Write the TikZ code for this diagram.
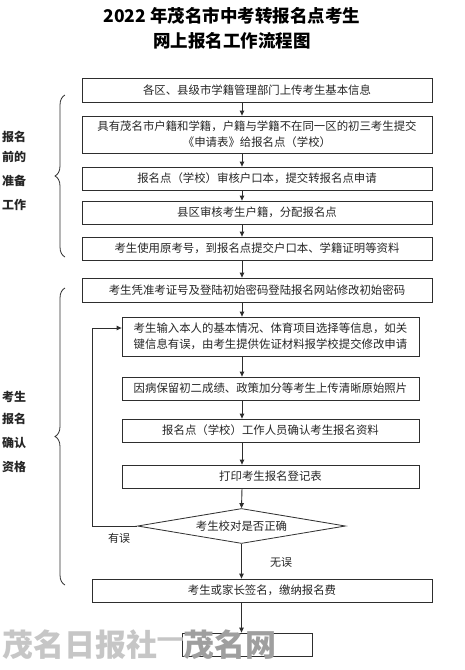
\documentclass[tikz,border=0pt]{standalone}
\usepackage{fontspec}
\newfontfamily\cjk{Noto Sans CJK SC}
\usetikzlibrary{arrows.meta,shapes.geometric,decorations.pathreplacing}
\definecolor{linec}{HTML}{2E2E2E}
\definecolor{txt}{HTML}{262626}
\begin{document}
\begin{tikzpicture}[x=1pt,y=-1pt,
  box/.style={draw=linec, line width=0.8pt, minimum height=23pt, inner sep=0pt,
    font=\cjk\fontsize{11.4}{16}\selectfont, text=txt, align=center},
  arr/.style={-{Triangle[length=5pt,width=4.5pt]}, draw=linec, line width=0.9pt},
  side/.style={font=\cjk\bfseries\fontsize{12}{14}\selectfont, text=txt},
  title/.style={font=\cjk\bfseries\fontsize{17.5}{20}\selectfont, text=black},
  lbl/.style={font=\cjk\fontsize{11}{13}\selectfont, text=txt},
  brc/.style={draw=linec, line width=0.8pt, decorate, decoration={brace, amplitude=10pt}},
  wm/.style={font=\cjk\bfseries\fontsize{31}{34}\selectfont}
]
\useasboundingbox[fill=white] (0,0) rectangle (465,670);

% title
\node[title] (t1) at (232,16) {2022 年茂名市中考转报名点考生};
\node[title] (t2) at (232,41) {网上报名工作流程图};

% column of arrows
\coordinate (ax) at (242,0);

% boxes
\node[box, minimum width=350pt, minimum height=24pt] (b1) at (257,90) {各区、县级市学籍管理部门上传考生基本信息};
\node[box, minimum width=350pt, minimum height=37pt] (b2) at (257,134.5) {具有茂名市户籍和学籍，户籍与学籍不在同一区的初三考生提交\\《申请表》给报名点（学校）};
\node[box, minimum width=350pt] (b3) at (257,178.5) {报名点（学校）审核户口本，提交转报名点申请};
\node[box, minimum width=350pt] (b4) at (257,212.5) {县区审核考生户籍，分配报名点};
\node[box, minimum width=350pt] (b5) at (257,248.5) {考生使用原考号，到报名点提交户口本、学籍证明等资料};
\node[box, minimum width=350pt, minimum height=24pt] (b6) at (257,290) {考生凭准考证号及登陆初始密码登陆报名网站修改初始密码};
\node[box, minimum width=297pt, minimum height=39pt] (b7) at (270.5,336.5) {考生输入本人的基本情况、体育项目选择等信息，如关\\键信息有误，由考生提供佐证材料报学校提交修改申请};
\node[box, minimum width=297pt] (b8) at (270.5,388.5) {因病保留初二成绩、政策加分等考生上传清晰原始照片};
\node[box, minimum width=297pt] (b9) at (270.5,430.5) {报名点（学校）工作人员确认考生报名资料};
\node[box, minimum width=297pt] (b10) at (270.5,476.5) {打印考生报名登记表};
\node[box, shape=diamond, aspect=6, minimum width=208pt, minimum height=35pt] (dia) at (241.5,526) {考生校对是否正确};
\node[box, minimum width=340pt] (b11) at (262,590.5) {考生或家长签名，缴纳报名费};
\node[box, minimum width=130pt] (b12) at (247,644.5) {};

% arrows
\draw[arr] (b1.south -| ax) -- (b2.north -| ax);
\draw[arr] (b2.south -| ax) -- (b3.north -| ax);
\draw[arr] (b3.south -| ax) -- (b4.north -| ax);
\draw[arr] (b4.south -| ax) -- (b5.north -| ax);
\draw[arr] (b5.south -| ax) -- (b6.north -| ax);
\draw[arr] (b6.south -| ax) -- (b7.north -| ax);
\draw[arr] (b7.south -| ax) -- (b8.north -| ax);
\draw[arr] (b8.south -| ax) -- (b9.north -| ax);
\draw[arr] (b9.south -| ax) -- (b10.north -| ax);
\draw[arr] (b10.south -| ax) -- (dia.north);
\draw[arr] (dia.south) -- (b11.north -| dia.south);
\draw[arr] (b11.south -| dia.south) -- (b12.north -| dia.south);

% feedback loop
\coordinate (lx) at (92,328);
\draw[arr] (dia.west) -| (lx) -- (lx -| b7.west);
\node[lbl] (yw) at (119,538) {有误};
\node[lbl] (ww) at (281,562) {无误};

% braces
\coordinate (br1a) at (65,257);
\coordinate (br1b) at (65,95);
\coordinate (br2a) at (65,585);
\coordinate (br2b) at (65,288);
\draw[brc] (br1a) -- (br1b);
\draw[brc] (br2a) -- (br2b);

% side labels
\node[side] (s1) at (14,137) {报名};
\node[side] (s2) at (14,156.5) {前的};
\node[side] (s3) at (14,181) {准备};
\node[side] (s4) at (14,205) {工作};
\node[side] (s5) at (14,397) {考生};
\node[side] (s6) at (14,419) {报名};
\node[side] (s7) at (14,443) {确认};
\node[side] (s8) at (14,467) {资格};

% watermark
\node[wm, text=gray!45] (w1) at (80,645) {茂名日报社};
\node[wm, text=gray!45] (w2) at (171,643) {—};
\node[wm, text=gray!75] (w3) at (230,645) {茂名网};
\end{tikzpicture}
\end{document}
